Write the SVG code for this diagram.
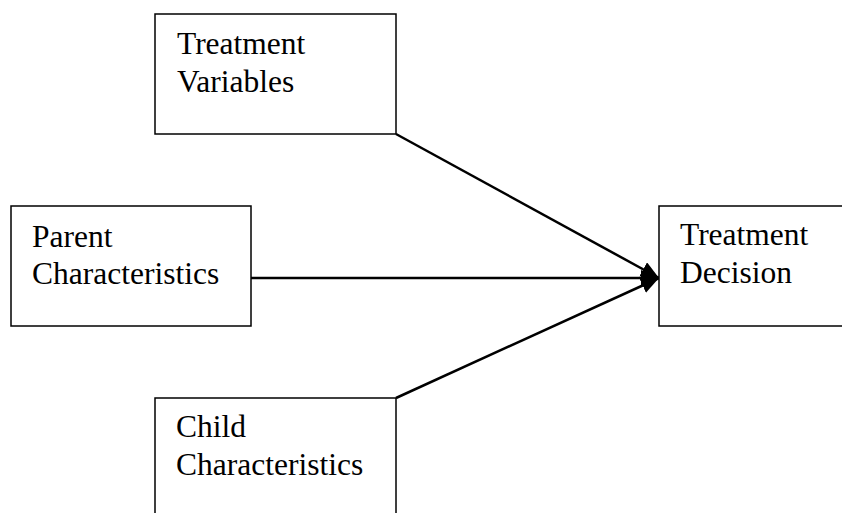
<svg xmlns="http://www.w3.org/2000/svg" width="842" height="513" viewBox="0 0 842 513">
<style>
.box{fill:#fff;stroke:#000;stroke-width:1.5}
.lbl{font-family:"Liberation Serif","Times New Roman",serif;font-size:31.5px;fill:#000}
.con{stroke:#000;stroke-width:2.5;fill:none}
</style>
<defs>
<marker id="ah" markerUnits="userSpaceOnUse" markerWidth="22" markerHeight="18" refX="18" refY="8" orient="auto">
<path d="M0,0 L18,8 L0,16 Z" fill="#000"/>
</marker>
</defs>
<rect width="842" height="513" fill="#fff"/>
<g id="connectors">
<line class="con" x1="396" y1="134" x2="659" y2="278" marker-end="url(#ah)"/>
<line class="con" x1="251" y1="278" x2="659" y2="278" marker-end="url(#ah)"/>
<line class="con" x1="396" y1="398" x2="659" y2="278" marker-end="url(#ah)"/>
</g>
<g id="treatment-variables">
<rect class="box" x="155" y="14" width="241" height="120"/>
<text class="lbl" x="177" y="54">Treatment</text>
<text class="lbl" x="177" y="92">Variables</text>
</g>
<g id="parent-characteristics">
<rect class="box" x="11" y="206" width="240" height="120"/>
<text class="lbl" x="32" y="247">Parent</text>
<text class="lbl" x="32" y="284">Characteristics</text>
</g>
<g id="treatment-decision">
<rect class="box" x="659" y="206" width="190" height="120"/>
<text class="lbl" x="680" y="245">Treatment</text>
<text class="lbl" x="680" y="283">Decision</text>
</g>
<g id="child-characteristics">
<rect class="box" x="155" y="398" width="241" height="130"/>
<text class="lbl" x="176" y="437">Child</text>
<text class="lbl" x="176" y="475">Characteristics</text>
</g>
</svg>
